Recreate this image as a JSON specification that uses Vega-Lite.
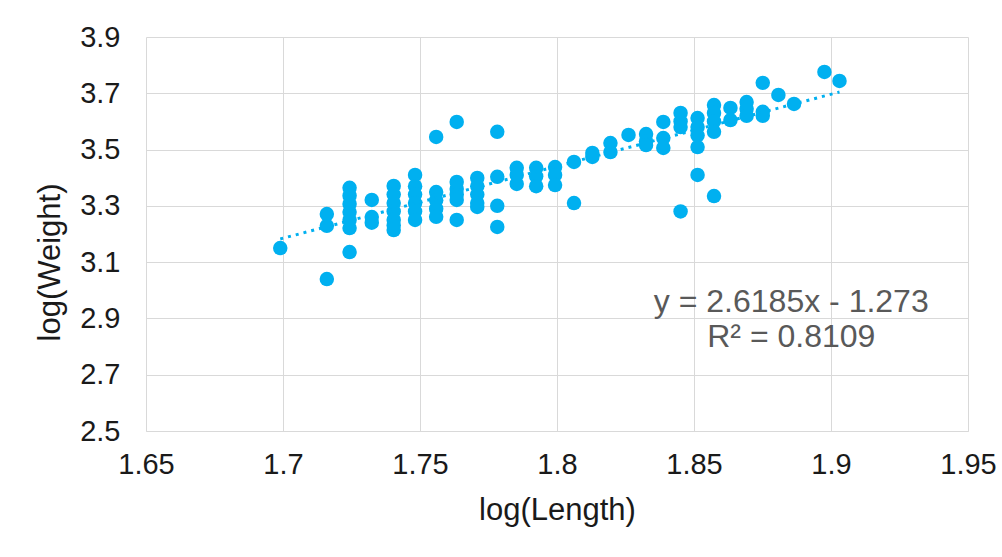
{
  "$schema": "https://vega.github.io/schema/vega-lite/v6.json",
  "width": 822,
  "height": 394,
  "autosize": "none",
  "padding": {"left": 146, "top": 37, "right": 34, "bottom": 126},
  "background": "white",
  "config": {"view": {"stroke": null}, "font": "Liberation Sans"},
  "datasets": {
    "fish": [
      {"logL": 1.699, "logW": 3.150},
      {"logL": 1.716, "logW": 3.271}, {"logL": 1.716, "logW": 3.229}, {"logL": 1.716, "logW": 3.040},
      {"logL": 1.7243, "logW": 3.364}, {"logL": 1.7243, "logW": 3.336}, {"logL": 1.7243, "logW": 3.307}, {"logL": 1.7243, "logW": 3.278}, {"logL": 1.7243, "logW": 3.250}, {"logL": 1.7243, "logW": 3.221}, {"logL": 1.7243, "logW": 3.136},
      {"logL": 1.7324, "logW": 3.321}, {"logL": 1.7324, "logW": 3.260}, {"logL": 1.7324, "logW": 3.240},
      {"logL": 1.7404, "logW": 3.371}, {"logL": 1.7404, "logW": 3.340}, {"logL": 1.7404, "logW": 3.310}, {"logL": 1.7404, "logW": 3.280}, {"logL": 1.7404, "logW": 3.250}, {"logL": 1.7404, "logW": 3.230}, {"logL": 1.7404, "logW": 3.214},
      {"logL": 1.7482, "logW": 3.410}, {"logL": 1.7482, "logW": 3.370}, {"logL": 1.7482, "logW": 3.340}, {"logL": 1.7482, "logW": 3.310}, {"logL": 1.7482, "logW": 3.280}, {"logL": 1.7482, "logW": 3.250},
      {"logL": 1.7559, "logW": 3.545}, {"logL": 1.7559, "logW": 3.349}, {"logL": 1.7559, "logW": 3.320}, {"logL": 1.7559, "logW": 3.290}, {"logL": 1.7559, "logW": 3.261},
      {"logL": 1.7634, "logW": 3.598}, {"logL": 1.7634, "logW": 3.385}, {"logL": 1.7634, "logW": 3.360}, {"logL": 1.7634, "logW": 3.340}, {"logL": 1.7634, "logW": 3.321}, {"logL": 1.7634, "logW": 3.250},
      {"logL": 1.7709, "logW": 3.399}, {"logL": 1.7709, "logW": 3.370}, {"logL": 1.7709, "logW": 3.340}, {"logL": 1.7709, "logW": 3.310}, {"logL": 1.7709, "logW": 3.296},
      {"logL": 1.7782, "logW": 3.563}, {"logL": 1.7782, "logW": 3.403}, {"logL": 1.7782, "logW": 3.300}, {"logL": 1.7782, "logW": 3.225},
      {"logL": 1.7853, "logW": 3.435}, {"logL": 1.7853, "logW": 3.410}, {"logL": 1.7853, "logW": 3.378},
      {"logL": 1.7924, "logW": 3.435}, {"logL": 1.7924, "logW": 3.405}, {"logL": 1.7924, "logW": 3.370},
      {"logL": 1.7993, "logW": 3.438}, {"logL": 1.7993, "logW": 3.410}, {"logL": 1.7993, "logW": 3.374},
      {"logL": 1.8062, "logW": 3.456}, {"logL": 1.8062, "logW": 3.310},
      {"logL": 1.8129, "logW": 3.488}, {"logL": 1.8129, "logW": 3.474},
      {"logL": 1.8195, "logW": 3.523}, {"logL": 1.8195, "logW": 3.491},
      {"logL": 1.8261, "logW": 3.552},
      {"logL": 1.8325, "logW": 3.555}, {"logL": 1.8325, "logW": 3.530}, {"logL": 1.8325, "logW": 3.516},
      {"logL": 1.8388, "logW": 3.598}, {"logL": 1.8388, "logW": 3.541}, {"logL": 1.8388, "logW": 3.506},
      {"logL": 1.8451, "logW": 3.630}, {"logL": 1.8451, "logW": 3.600}, {"logL": 1.8451, "logW": 3.580}, {"logL": 1.8451, "logW": 3.280},
      {"logL": 1.8513, "logW": 3.612}, {"logL": 1.8513, "logW": 3.580}, {"logL": 1.8513, "logW": 3.550}, {"logL": 1.8513, "logW": 3.509}, {"logL": 1.8513, "logW": 3.410},
      {"logL": 1.8573, "logW": 3.658}, {"logL": 1.8573, "logW": 3.630}, {"logL": 1.8573, "logW": 3.600}, {"logL": 1.8573, "logW": 3.563}, {"logL": 1.8573, "logW": 3.335},
      {"logL": 1.8633, "logW": 3.648}, {"logL": 1.8633, "logW": 3.605},
      {"logL": 1.8692, "logW": 3.669}, {"logL": 1.8692, "logW": 3.645}, {"logL": 1.8692, "logW": 3.620},
      {"logL": 1.8751, "logW": 3.737}, {"logL": 1.8751, "logW": 3.634}, {"logL": 1.8751, "logW": 3.620},
      {"logL": 1.8808, "logW": 3.694},
      {"logL": 1.8865, "logW": 3.662},
      {"logL": 1.8976, "logW": 3.776},
      {"logL": 1.9031, "logW": 3.744}
    ],
    "notes": [
      {"logL": 1.8855, "logW": 2.957, "label": "y = 2.6185x - 1.273"},
      {"logL": 1.8855, "logW": 2.834, "label": "R² = 0.8109"}
    ]
  },
  "layer": [
    {
      "data": {"name": "fish"},
      "mark": {"type": "point", "shape": "circle", "filled": true, "opacity": 1, "color": "#00B0F0", "size": 210},
      "encoding": {
        "x": {
          "field": "logL", "type": "quantitative",
          "scale": {"domain": [1.65, 1.95], "nice": false, "zero": false},
          "axis": {
            "title": "log(Length)", "values": [1.65, 1.7, 1.75, 1.8, 1.85, 1.9, 1.95],
            "format": "~g", "grid": true, "gridColor": "#d9d9d9", "gridWidth": 1,
            "domain": true, "domainColor": "#d9d9d9", "domainWidth": 1,
            "ticks": false, "labelFontSize": 29, "labelColor": "#1a1a1a", "labelPadding": 19,
            "labelFlush": false,
            "titleFontSize": 31, "titleFontWeight": "normal", "titleColor": "#1a1a1a",
            "titleX": 411, "titleY": 79, "titleBaseline": "middle", "titleAlign": "center"
          }
        },
        "y": {
          "field": "logW", "type": "quantitative",
          "scale": {"domain": [2.5, 3.9], "nice": false, "zero": false},
          "axis": {
            "title": "log(Weight)", "values": [2.5, 2.7, 2.9, 3.1, 3.3, 3.5, 3.7, 3.9],
            "format": ".1f", "grid": true, "gridColor": "#d9d9d9", "gridWidth": 1,
            "domain": false, "ticks": false, "labelFontSize": 29, "labelColor": "#1a1a1a",
            "labelPadding": 26, "labelFlush": false,
            "titleFontSize": 31, "titleFontWeight": "normal", "titleColor": "#1a1a1a",
            "titleX": -96, "titleY": 225, "titleBaseline": "middle", "titleAlign": "center", "titleAngle": -90
          }
        }
      }
    },
    {
      "data": {"name": "fish"},
      "transform": [{"regression": "logW", "on": "logL"}],
      "mark": {"type": "line", "color": "#00B0F0", "strokeWidth": 3, "strokeDash": [3, 5]},
      "encoding": {
        "x": {"field": "logL", "type": "quantitative"},
        "y": {"field": "logW", "type": "quantitative"}
      }
    },
    {
      "data": {"name": "notes"},
      "mark": {"type": "text", "fontSize": 32, "color": "#595959", "align": "center", "baseline": "middle"},
      "encoding": {
        "x": {"field": "logL", "type": "quantitative"},
        "y": {"field": "logW", "type": "quantitative"},
        "text": {"field": "label"}
      }
    }
  ]
}
